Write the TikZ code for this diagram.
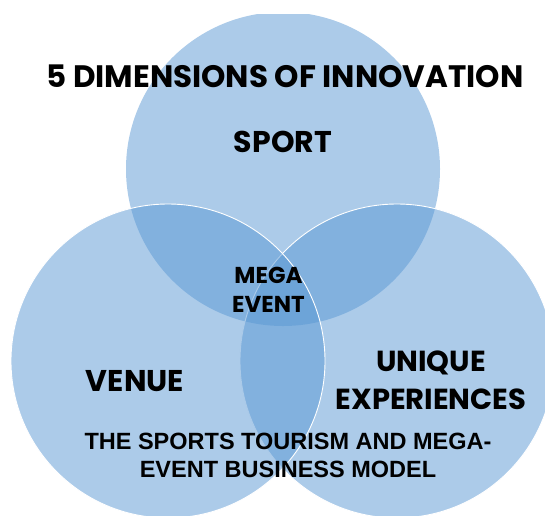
\documentclass[tikz,border=0pt]{standalone}
\usepackage{fontspec}
\setmainfont{Poppins}
\newfontfamily\arialfont{Liberation Sans}
\usepackage{xcolor}
\definecolor{vennblue}{RGB}{89,151,211}

\begin{document}
\begin{tikzpicture}[x=1pt, y=-1pt]

        % 1. Canvas, clipping window and circle geometry
        \pgfmathsetmacro{\radius}{157} % Radius shared by the three circles
        \useasboundingbox (0,0) rectangle (545,515);
        \clip (0,14) rectangle (545,515);

        \coordinate (SportC) at (283,169);  % Top circle
        \coordinate (VenueC) at (168,361);  % Bottom left circle
        \coordinate (UniqueC) at (397,361); % Bottom right circle

        \tikzset{bubble/.style={fill=vennblue, fill opacity=0.5},
                 rim/.style={draw=white, line width=0.9pt},
                 heading/.style={font=\bfseries\fontsize{30}{36}\selectfont, anchor=base, inner sep=0pt},
                 caption/.style={font=\arialfont\bfseries\fontsize{23.5}{28}\selectfont, align=center, inner sep=0pt}}

        % 2. Draw the circles (top, then right, then left on top)
        \fill[bubble] (SportC) circle[radius=\radius pt];
        \fill[bubble] (UniqueC) circle[radius=\radius pt];
        \draw[rim] (UniqueC) circle[radius=\radius pt];
        \fill[bubble] (VenueC) circle[radius=\radius pt];
        \draw[rim] (VenueC) circle[radius=\radius pt];

        % 3. Labels
        \node[heading, font=\bfseries\fontsize{31}{36}\selectfont] (title) at (285,87) {5 DIMENSIONS OF INNOVATION};
        \node[heading] (sport) at (283,152) {SPORT};
        \node[heading] (venue) at (135,391) {VENUE};
        \node[heading, align=center, font=\bfseries\fontsize{29}{38}\selectfont, anchor=center] (unique) at (431,380) {UNIQUE\\EXPERIENCES};
        \node[heading, align=center, font=\bfseries\fontsize{23}{28.5}\selectfont, anchor=center] (mega) at (268.5,290) {MEGA\\EVENT};
        \node[caption] (model) at (288,455) {THE SPORTS TOURISM AND MEGA-\\EVENT BUSINESS MODEL};

    \end{tikzpicture}
\end{document}
